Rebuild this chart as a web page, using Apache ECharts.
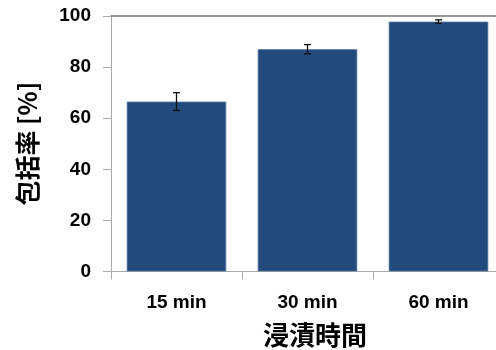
<!DOCTYPE html>
<html><head><meta charset="utf-8">
<script src="https://cdn.jsdelivr.net/npm/echarts@6/dist/echarts.min.js"></script>
<style>html,body{margin:0;padding:0;background:#fff}#c{width:496px;height:350px}</style>
</head><body><div id="c"></div>
<script>
const categories = ['15 min', '30 min', '60 min'];
const values = [66.5, 87.0, 97.8];
const errors = [3.5, 1.8, 0.7];
const yTicks = [0, 20, 40, 60, 80, 100];
const xName = '浸漬時間';
const yName = '包括率 [%]';

const chart = echarts.init(document.getElementById('c'), null, {renderer: 'canvas'});
const font = '"Liberation Sans", Arial, "Noto Sans CJK JP", sans-serif';
chart.setOption({
  animation: false,
  grid: {left: 111, top: 16, width: 393, bottom: 78.5, containLabel: false, outerBoundsMode: 'none'},
  xAxis: [{
    type: 'category', data: categories,
    axisLine: {lineStyle: {color: '#aaaaaa', width: 1}},
    axisTick: {show: true, length: 8, lineStyle: {color: '#aaaaaa'}},
    axisLabel: {color: '#000', fontSize: 19, fontWeight: 'bold', fontFamily: font, margin: 22},
    name: xName, nameLocation: 'middle', nameGap: 51,
    nameTextStyle: {color: '#000', fontSize: 26, fontWeight: 'bold', fontFamily: '"Noto Sans CJK JP", sans-serif', padding: [0, 0, 0, 15]}
  }, {
    type: 'category', data: categories, position: 'top',
    axisLine: {show: true, lineStyle: {color: '#777777', width: 1.5}},
    axisTick: {show: false}, axisLabel: {show: false}
  }],
  yAxis: {
    type: 'value', min: yTicks[0], max: yTicks[yTicks.length - 1], interval: 20,
    axisLine: {show: true, lineStyle: {color: '#aaaaaa', width: 1}},
    axisTick: {show: true, length: 8, lineStyle: {color: '#aaaaaa'}},
    splitLine: {show: false},
    axisLabel: {color: '#000', fontSize: 19, fontWeight: 'bold', fontFamily: font, margin: 20},
    name: yName, nameLocation: 'middle', nameGap: 63, nameRotate: 90,
    nameTextStyle: {color: '#000', fontSize: 25, fontWeight: 'bold', fontFamily: '"Noto Sans CJK JP", sans-serif', padding: [0, 0, 8, 0]}
  },
  series: [{
    type: 'bar', data: values, barCategoryGap: '24%',
    itemStyle: {color: '#224a7c', borderColor: '#5d7ba3', borderWidth: 0.8}
  }, {
    type: 'custom',
    data: values.map((v, i) => [i, v - errors[i], v + errors[i]]),
    renderItem: function (params, api) {
      const lo = api.coord([api.value(0), api.value(1)]);
      const hi = api.coord([api.value(0), api.value(2)]);
      const w = 3.5;
      const st = {stroke: '#111', lineWidth: 1.3};
      return {type: 'group', children: [
        {type: 'line', shape: {x1: hi[0], y1: hi[1], x2: lo[0], y2: lo[1]}, style: st},
        {type: 'line', shape: {x1: hi[0] - w, y1: hi[1], x2: hi[0] + w, y2: hi[1]}, style: st},
        {type: 'line', shape: {x1: lo[0] - w, y1: lo[1], x2: lo[0] + w, y2: lo[1]}, style: st}
      ]};
    },
    z: 5
  }]
});
</script></body></html>
